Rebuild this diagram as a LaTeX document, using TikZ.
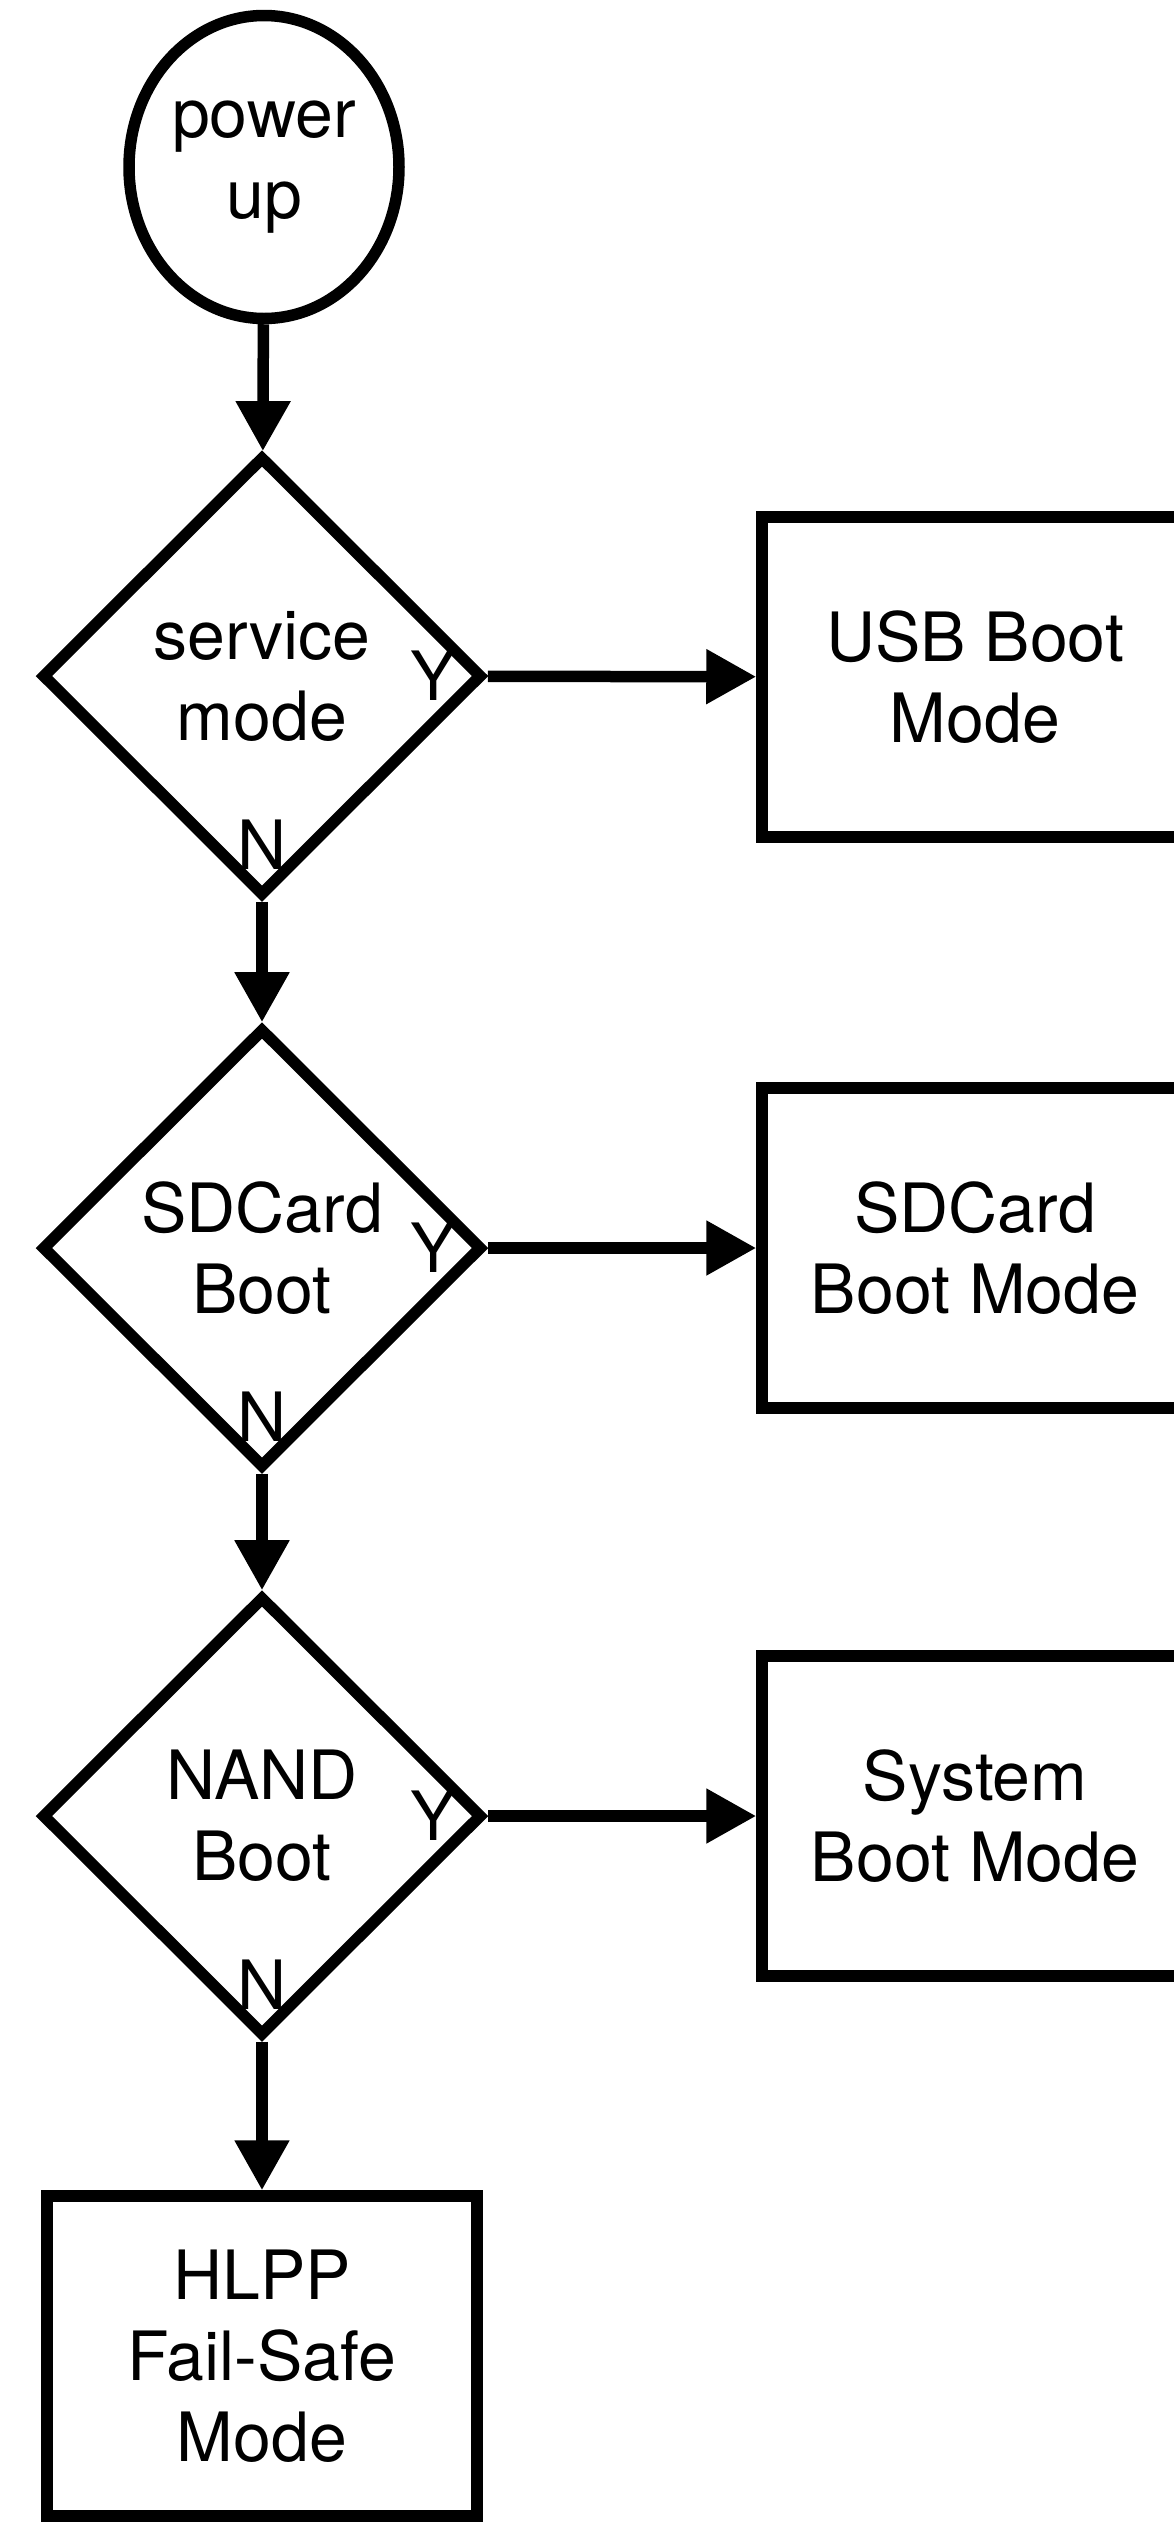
\documentclass[tikz,border=0pt]{standalone}
\usepackage{fontspec}
\setmainfont{TeX Gyre Heros}
\usetikzlibrary{shapes.geometric,arrows.meta}
\begin{document}
\begin{tikzpicture}[x=1pt,y=-1pt,line width=11.5pt,
  font=\fontsize{68}{81}\selectfont,
  startnode/.style={draw,ellipse,minimum width=270pt,minimum height=303pt,inner sep=0pt,align=center},
  decision/.style={draw,diamond,minimum width=441pt,minimum height=440pt,inner sep=0pt,align=center},
  modebox/.style={draw,rectangle,minimum width=426pt,minimum height=320pt,inner sep=0pt,align=center},
  yn/.style={inner sep=0pt},
  flow/.style={-{Triangle[width=52pt,length=50pt]}}]
\clip (0,0) rectangle (1174,2525);
\node[startnode] (power) at (264,167) {power\\up};
\node[decision] (service) at (262,676) {service\\mode};
\node[decision] (sdcard) at (262,1248) {SDCard\\Boot};
\node[decision] (nand) at (262,1816) {NAND\\Boot};
\node[modebox] (usbmode) at (975,677) {USB Boot\\Mode};
\node[modebox] (sdmode) at (975,1248) {SDCard\\Boot Mode};
\node[modebox] (sysmode) at (975,1816) {System\\Boot Mode};
\node[modebox,minimum width=430pt,minimum height=320pt] (failsafe) at (262,2356) {HLPP\\Fail-Safe\\Mode};
\node[yn,anchor=east] (y1) at ([xshift=-27pt]service.east) {Y};
\node[yn,anchor=south] (n1) at ([yshift=27pt]service.south) {N};
\node[yn,anchor=east] (y2) at ([xshift=-27pt]sdcard.east) {Y};
\node[yn,anchor=south] (n2) at ([yshift=27pt]sdcard.south) {N};
\node[yn,anchor=east] (y3) at ([xshift=-27pt]nand.east) {Y};
\node[yn,anchor=south] (n3) at ([yshift=27pt]nand.south) {N};
\draw[flow] (power) -- (service);
\draw[flow] (service) -- (usbmode);
\draw[flow] (service) -- (sdcard);
\draw[flow] (sdcard) -- (sdmode);
\draw[flow] (sdcard) -- (nand);
\draw[flow] (nand) -- (sysmode);
\draw[flow] (nand) -- (failsafe);
\end{tikzpicture}
\end{document}
